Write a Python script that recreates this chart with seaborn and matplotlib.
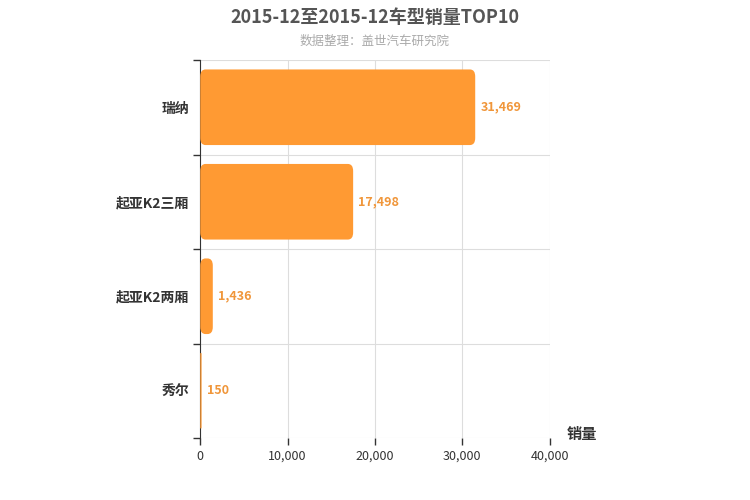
import matplotlib
matplotlib.use("Agg")
import matplotlib.pyplot as plt
import seaborn as sns
import pandas as pd
from matplotlib.patches import FancyBboxPatch
from matplotlib.ticker import FuncFormatter

categories = ["瑞纳", "起亚K2三厢", "起亚K2两厢", "秀尔"]
sales = [31469, 17498, 1436, 150]

sns.set_style("white")
plt.rcParams['font.family'] = ['Noto Sans CJK SC', 'DejaVu Sans']

df = pd.DataFrame({"cat": categories, "sales": sales})
fig = plt.figure(figsize=(7.5, 5), dpi=100)
ax = fig.add_axes([0.267, 0.124, 0.466, 0.756])
color = "#FF9A33"
sns.barplot(data=df, x="sales", y="cat", color=color, width=0.8, ax=ax, saturation=1)

for p in list(ax.patches):
    x, y, w, h = p.get_x(), p.get_y(), p.get_width(), p.get_height()
    p.set_visible(False)
    pad = min(600, w / 2)
    fb = FancyBboxPatch((x, y), max(w, 0.01), h,
                        boxstyle=f"round,pad=0,rounding_size={pad}",
                        mutation_aspect=1 / 8000, fc=color, ec="none", zorder=3)
    ax.add_patch(fb)

for i, v in enumerate(sales):
    ax.text(v + 600, i, f"{v:,}", va="center", ha="left", color="#F0963A",
            fontsize=9, fontweight="bold")

ax.set_xlim(0, 40000)
ax.set_ylim(3.5, -0.5)
ax.set_xticks([0, 10000, 20000, 30000, 40000])
ax.xaxis.set_major_formatter(FuncFormatter(lambda v, _: f"{int(v):,}"))
ax.set_yticks([0, 1, 2, 3])
ax.set_yticks([-0.5, 0.5, 1.5, 2.5, 3.5], minor=True)
ax.tick_params(axis="y", which="major", left=False, length=0, labelsize=10, pad=8)
ax.tick_params(axis="y", which="minor", left=True, length=5, width=1, color="#333333")
ax.tick_params(axis="x", bottom=True, length=5, width=1, color="#333333", labelsize=9, labelcolor="#333333")
for lab in ax.get_yticklabels():
    lab.set_fontweight("bold"); lab.set_color("#333333")
ax.grid(axis="x", color="#dddddd", lw=0.8, zorder=0)
ax.grid(axis="y", which="minor", color="#dddddd", lw=0.8, zorder=0)
ax.set_axisbelow(True)
for s in ["top", "right"]:
    ax.spines[s].set_visible(False)
ax.spines["bottom"].set_visible(False)
ax.spines["left"].set_color("#333333")
ax.set_xlabel(""); ax.set_ylabel("")
fig.text(0.755, 0.123, "销量", fontsize=11, fontweight="bold", color="#333333", ha="left")
fig.text(0.5, 0.965, "2015-12至2015-12车型销量TOP10", ha="center", va="center",
         fontsize=13, fontweight="bold", color="#555555")
fig.text(0.5, 0.918, "数据整理：盖世汽车研究院", ha="center", va="center",
         fontsize=9, color="#aaaaaa")
fig.savefig("out.png", dpi=100)
